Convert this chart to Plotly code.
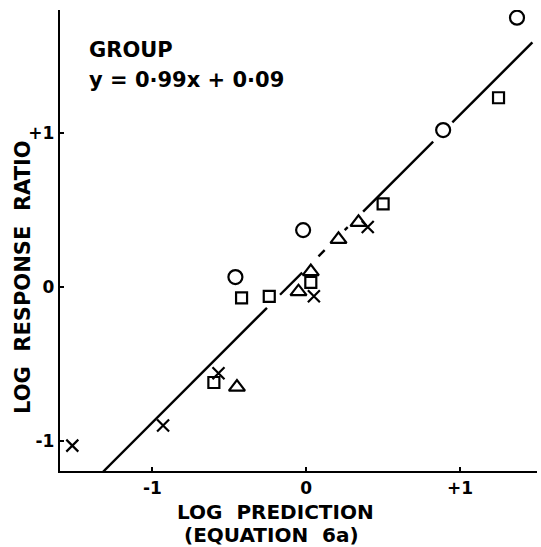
import plotly.graph_objects as go

# ---- data (log prediction, log response ratio) ----
circle_x = [1.37, 0.89, -0.02, -0.46]
circle_y = [1.75, 1.02, 0.37, 0.065]
square_x = [1.25, 0.50, -0.42, -0.24, 0.03, -0.60]
square_y = [1.23, 0.54, -0.07, -0.06, 0.03, -0.62]
triangle_x = [0.21, 0.34, 0.03, -0.05, -0.45]
triangle_y = [0.31, 0.42, 0.10, -0.03, -0.65]
cross_x = [0.40, 0.05, -0.57, -0.93, -1.52]
cross_y = [0.39, -0.06, -0.56, -0.90, -1.03]

# fitted line as drawn, broken where it passes symbols
line_slope = 1.0
line_intercept = 0.12
line_pieces = [(-1.32, -0.255), (-0.17, -0.026), (0.08, 0.12), (0.25, 0.27),
               (0.37, 0.825), (0.95, 1.47)]

x_tick_vals = [-1, 0, 1]
x_tick_text = ["-1", "0", "+1"]
y_tick_vals = [-1, 0, 1]
y_tick_text = ["-1", "0", "+1"]

FONT = "DejaVu Sans"
W, H = 541, 547
L, R, T, B = 60, 4, 10, 76

lx, ly = [], []
for a, b in line_pieces:
    lx += [a, b, None]
    ly += [line_slope * a + line_intercept, line_slope * b + line_intercept, None]

fig = go.Figure()
fig.add_trace(go.Scatter(x=lx, y=ly, mode="lines", line=dict(color="black", width=2.4),
                         showlegend=False, hoverinfo="skip"))


def mk(x, y, sym, size):
    return go.Scatter(x=x, y=y, mode="markers", showlegend=False,
                      marker=dict(symbol=sym, size=size, color="black",
                                  line=dict(color="black", width=2.2)))


fig.add_trace(mk(circle_x, circle_y, "circle-open", 14))
fig.add_trace(mk(square_x, square_y, "square-open", 11))
fig.add_trace(mk(triangle_x, triangle_y, "triangle-up-open", 14))
fig.add_trace(mk(cross_x, cross_y, "x-thin-open", 12))

axis_common = dict(showline=True, linecolor="black", linewidth=2.4, mirror=False,
                   showgrid=False, zeroline=False, ticks="inside", ticklen=4,
                   tickwidth=2.4, tickcolor="black",
                   tickfont=dict(family=FONT, size=17, color="black", weight="bold"))

fig.update_layout(
    width=W, height=H,
    margin=dict(l=L, r=R, t=T, b=B),
    paper_bgcolor="white", plot_bgcolor="white",
    xaxis=dict(range=[-1.60, 1.50], tickvals=x_tick_vals, ticktext=x_tick_text, **axis_common),
    yaxis=dict(range=[-1.195, 1.80], tickvals=y_tick_vals, ticktext=y_tick_text, **axis_common),
    font=dict(family=FONT, color="black"),
)

pw, ph = W - L - R, H - T - B


def px(xp):
    return (xp - L) / pw


def py(yp):
    return (H - B - yp) / ph


def note(text, x, y, size, xanchor="left", angle=0):
    fig.add_annotation(text=text, x=px(x), y=py(y), xref="paper", yref="paper",
                       xanchor=xanchor, yanchor="middle", textangle=angle, showarrow=False,
                       font=dict(family=FONT, size=size, color="black", weight="bold"))


note("GROUP", 87, 50, 21)
note("y = 0·99x + 0·09", 87, 80, 21)
note("LOG  PREDICTION", 275, 512, 20, xanchor="center")
note("(EQUATION  6a)", 271, 535, 20, xanchor="center")
note("LOG  RESPONSE  RATIO", 23, 277, 21, xanchor="center", angle=-90)

fig.write_html("out.html", config={"displayModeBar": False},
               post_script="document.body.style.margin='0';document.body.style.padding='0';"
                           "document.documentElement.style.overflow='hidden';")
